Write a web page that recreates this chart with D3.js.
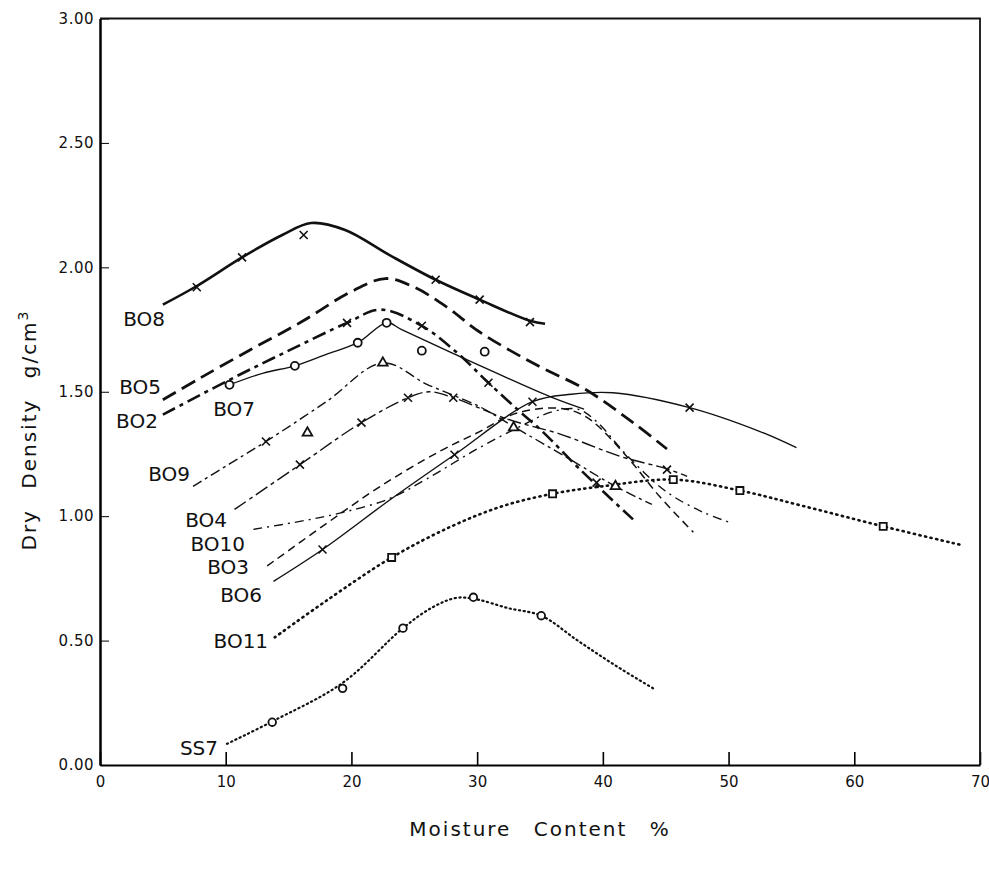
<!DOCTYPE html>
<html>
<head>
<meta charset="utf-8">
<script src="https://cdn.jsdelivr.net/npm/d3@7"></script>
<style>
  body { margin: 0; background: #fff; }
  #chart { width: 989px; height: 871px; }
  text { font-family: "DejaVu Sans", sans-serif; fill: #111; }
</style>
</head>
<body>
<div id="chart"></div>
<script>
// --- Data (moisture %, dry density g/cm3) ---

var xTicks = [0, 10, 20, 30, 40, 50, 60, 70];
var yTicks = [0, 0.5, 1.0, 1.5, 2.0, 2.5, 3.0];

var bo8Curve = [[5.0,1.85],[7.7,1.925],[11.3,2.04],[14.5,2.13],[16.8,2.178],[19.5,2.15],[23,2.05],[26.7,1.95],[30.2,1.87],[34.2,1.785],[35.4,1.773]];
var bo8Points = [[7.7,1.92],[11.3,2.04],[16.2,2.13],[26.7,1.95],[30.2,1.87],[34.2,1.78]];

var bo5Curve = [[5.0,1.468],[8,1.556],[12,1.67],[16,1.78],[19.9,1.90],[22.7,1.955],[25,1.92],[27.6,1.84],[30.2,1.74],[35,1.60],[38.6,1.51],[42.4,1.376],[45.1,1.27]];

var bo2Curve = [[5.0,1.408],[10.3,1.548],[15,1.665],[19.65,1.777],[22.3,1.83],[25.6,1.765],[28.4,1.657],[30.9,1.536],[33.4,1.42],[35.2,1.34],[38.2,1.187],[42.4,0.987]];
var bo2Points = [[19.65,1.777],[25.6,1.765],[30.9,1.536],[39.5,1.135]];

var bo7Curve = [[10.3,1.528],[13,1.575],[15.5,1.604],[18,1.65],[20.5,1.697],[22.8,1.777],[24,1.75],[30,1.61],[36,1.476],[38.5,1.43]];
var bo7Points = [[10.3,1.528],[15.5,1.604],[20.5,1.697],[22.8,1.777],[25.6,1.665],[30.6,1.661]];

var bo9Curve = [[7.4,1.12],[10.3,1.21],[13.2,1.30],[18,1.46],[22.5,1.616],[26,1.53],[30.2,1.44],[32.9,1.36],[37,1.24],[41,1.12],[43.9,1.047]];
var bo9Points = [[16.5,1.335],[22.5,1.616],[32.9,1.356],[41.0,1.12]];
var bo9Cross = [[13.2,1.30]];

var bo4Curve = [[10.7,1.027],[15.9,1.207],[20.8,1.376],[24.5,1.476],[26.2,1.50],[28.1,1.476],[32.4,1.39],[36.6,1.33],[41.4,1.24],[45.1,1.19],[46.7,1.16]];
var bo4Points = [[15.9,1.207],[20.8,1.376],[24.5,1.476],[28.1,1.476],[45.1,1.187]];

var bo10Curve = [[12.2,0.947],[16,0.98],[19.3,1.015],[23,1.07],[26,1.15],[30,1.27],[33.4,1.36],[36,1.42],[38,1.43],[39.5,1.38],[42,1.24],[45,1.10],[48,1.015],[50.1,0.975]];

var bo3Curve = [[13.3,0.80],[18,0.97],[22.3,1.12],[27,1.26],[30.2,1.34],[32.9,1.41],[36,1.435],[37.8,1.42],[39.2,1.38],[41.9,1.24],[44.5,1.08],[47.2,0.935]];

var bo6Curve = [[13.8,0.738],[17.7,0.866],[23.1,1.067],[28.2,1.247],[34.4,1.46],[37.5,1.49],[40.8,1.496],[46.9,1.436],[52.5,1.34],[55.4,1.275]];
var bo6Points = [[17.7,0.866],[28.2,1.247],[34.4,1.46],[46.9,1.436]];

var bo11Curve = [[13.9,0.513],[18,0.66],[23.2,0.834],[28,0.96],[32,1.04],[36,1.09],[40,1.12],[45.6,1.147],[50.9,1.103],[56,1.04],[62.3,0.959],[68.6,0.883]];
var bo11Points = [[23.2,0.834],[36.0,1.09],[45.6,1.147],[50.9,1.103],[62.3,0.959]];

var ss7Curve = [[10.1,0.085],[13.7,0.175],[19.3,0.33],[24.1,0.55],[26.5,0.635],[28.4,0.672],[30,0.665],[32.5,0.63],[35.1,0.60],[38,0.50],[41,0.40],[44.1,0.305]];
var ss7Points = [[13.7,0.172],[19.3,0.308],[24.1,0.55],[29.7,0.674],[35.1,0.60]];

// label name, right edge x, baseline y (data units)
var labels = [["BO8",5.17,1.765],["BO5",4.85,1.492],["BO2",4.61,1.356],["BO7",12.33,1.404],["BO9",7.16,1.143],
  ["BO4",10.1,0.955],["BO10",11.54,0.862],["BO3",11.85,0.766],["BO6",12.89,0.654],["BO11",13.37,0.469],["SS7",9.39,0.04]];

// --- Setup ---

var pxX = 989, pxY = 871;
var svg = d3.select("#chart").append("svg")
  .attr("width", pxX)
  .attr("height", pxY);

var scX = d3.scaleLinear().domain([0, 70]).range([100, 980]);
var scY = d3.scaleLinear().domain([0, 3]).range([765, 18.5]);

// --- Axes and frame ---

var gy = svg.append("g")
  .attr("transform", "translate(100,0)")
  .call(d3.axisLeft(scY).tickValues(yTicks).tickFormat(d3.format(".2f")).tickSize(-9).tickSizeOuter(0).tickPadding(6));
gy.select(".domain").attr("stroke-width", 2.5);
gy.selectAll("text").attr("font-size", 15).attr("letter-spacing", 0.5);

var gx = svg.append("g")
  .attr("transform", "translate(0,765)")
  .call(d3.axisBottom(scX).tickValues(xTicks).tickSize(-13).tickSizeOuter(0).tickPadding(11));
gx.select(".domain").attr("stroke-width", 2);
gx.selectAll(".tick line").attr("stroke-width", 1.6);
gx.selectAll("text").attr("font-size", 15);

svg.append("path")
  .attr("fill", "none")
  .attr("stroke", "#111")
  .attr("stroke-width", 1.8)
  .attr("d", `M${scX(0)},${scY(3)}H${scX(70)}V${scY(0)}`);

svg.append("text")
  .attr("x", 540).attr("y", 836)
  .attr("text-anchor", "middle")
  .attr("font-size", 20)
  .attr("letter-spacing", 2)
  .attr("word-spacing", 14)
  .text("Moisture Content %");

svg.append("text")
  .attr("transform", "translate(36,430) rotate(-90)")
  .attr("text-anchor", "middle")
  .attr("font-size", 20)
  .attr("letter-spacing", 2)
  .attr("word-spacing", 12)
  .html('Dry Density g/cm<tspan dy="-8" font-size="14">3</tspan>');

// --- Curves ---

var lnMkr = d3.line()
  .curve(d3.curveCatmullRom.alpha(0.5))
  .x(d => scX(d[0]))
  .y(d => scY(d[1]));

var drawCurve = function(data, width, dash) {
  svg.append("path")
    .attr("fill", "none")
    .attr("stroke", "#111")
    .attr("stroke-width", width)
    .attr("stroke-dasharray", dash)
    .attr("stroke-linecap", dash && dash.startsWith("1.") ? "round" : "butt")
    .attr("d", lnMkr(data));
}

drawCurve(bo8Curve, 2.6, null);
drawCurve(bo5Curve, 2.8, "15,7");
drawCurve(bo2Curve, 2.6, "14,5,4,5");
drawCurve(bo7Curve, 1.4, null);
drawCurve(bo9Curve, 1.4, "10,4,3,4");
drawCurve(bo4Curve, 1.4, "14,4,4,4");
drawCurve(bo10Curve, 1.4, "9,5,2,5");
drawCurve(bo3Curve, 1.5, "8,5");
drawCurve(bo6Curve, 1.4, null);
drawCurve(bo11Curve, 2.6, "1.2,4.5");
drawCurve(ss7Curve, 2.2, "1.2,3.5");

// --- Markers ---

var drawCross = function(data, s) {
  svg.append("g").selectAll("path")
    .data(data)
    .enter()
    .append("path")
    .attr("fill", "none")
    .attr("stroke", "#111")
    .attr("stroke-width", 1.6)
    .attr("d", d => {
      var x = scX(d[0]), y = scY(d[1]);
      return `M${x-s},${y-s}L${x+s},${y+s}M${x+s},${y-s}L${x-s},${y+s}`;
    });
}

var drawCircle = function(data, r) {
  svg.append("g").selectAll("circle")
    .data(data)
    .enter()
    .append("circle")
    .attr("r", r)
    .attr("cx", d => scX(d[0]))
    .attr("cy", d => scY(d[1]))
    .attr("fill", "#fff")
    .attr("stroke", "#111")
    .attr("stroke-width", 1.8);
}

var drawSymbol = function(data, type, size) {
  svg.append("g").selectAll("path")
    .data(data)
    .enter()
    .append("path")
    .attr("transform", d => `translate(${scX(d[0])},${scY(d[1])})`)
    .attr("d", d3.symbol().type(type).size(size))
    .attr("fill", "#fff")
    .attr("stroke", "#111")
    .attr("stroke-width", 1.8);
}

drawCross(bo8Points, 4);
drawCross(bo2Points, 4);
drawCircle(bo7Points, 4);
drawSymbol(bo9Points, d3.symbolTriangle, 40);
drawCross(bo9Cross, 4);
drawCross(bo4Points, 4);
drawCross(bo6Points, 4);
drawSymbol(bo11Points, d3.symbolSquare, 50);
drawCircle(ss7Points, 3.8);

// --- Series labels ---

svg.append("g").selectAll("text")
  .data(labels)
  .enter()
  .append("text")
  .attr("x", d => scX(d[1]))
  .attr("y", d => scY(d[2]))
  .attr("text-anchor", "end")
  .attr("font-size", 20)
  .text(d => d[0]);
</script>
</body>
</html>
